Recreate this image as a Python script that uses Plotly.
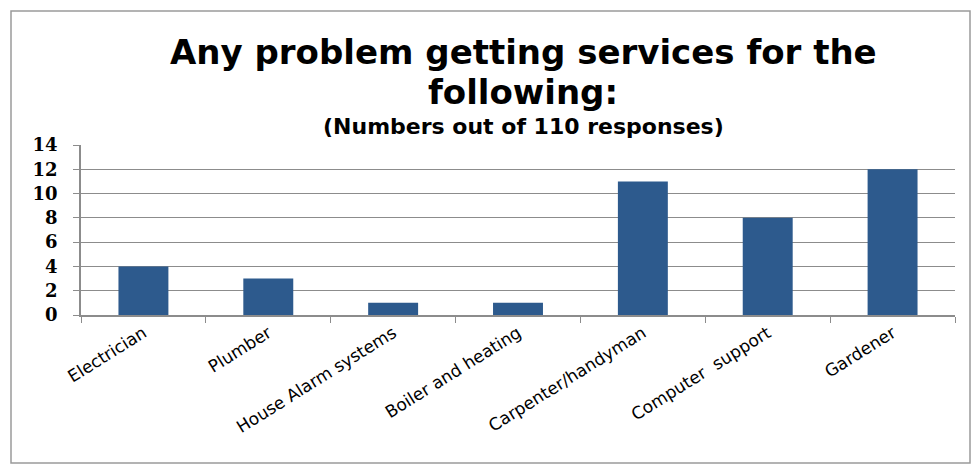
import plotly.graph_objects as go

# Survey results: number of respondents reporting problems, by service
services = [
    "Electrician",
    "Plumber",
    "House Alarm systems",
    "Boiler and heating",
    "Carpenter/handyman",
    "Computer  support",
    "Gardener",
]
problem_counts = [4, 3, 1, 1, 11, 8, 12]
y_ticks = [0, 2, 4, 6, 8, 10, 12, 14]

BAR_COLOR = "#2D5A8D"
GRID_COLOR = "#8C8C8C"
TEXT_FONT = "DejaVu Sans"

fig = go.Figure(
    go.Bar(
        x=services,
        y=problem_counts,
        marker=dict(color=BAR_COLOR, line=dict(width=0)),
        width=0.4,
    )
)

# plot-area geometry in pixels (figure 976 x 466)
L, R, T, B = 81, 21, 145, 151
W, H = 976, 466
pw, ph = W - L - R, H - T - B


def px_x(x):
    return (x - L) / pw


def px_y(y):
    return (H - B - y) / ph


fig.update_layout(
    width=W,
    height=H,
    margin=dict(l=L, r=R, t=T, b=B, pad=0),
    paper_bgcolor="white",
    plot_bgcolor="white",
    showlegend=False,
    bargap=0.6,
    font=dict(family=TEXT_FONT, color="black"),
)

fig.update_xaxes(
    type="category",
    tickangle=-32,
    tickson="boundaries",
    ticks="outside",
    ticklen=6,
    tickcolor=GRID_COLOR,
    showline=True,
    linecolor=GRID_COLOR,
    linewidth=1.5,
    showgrid=False,
    tickfont=dict(family=TEXT_FONT, size=17, color="black"),
)

fig.update_yaxes(
    range=[0, 14],
    tickvals=y_ticks,
    ticktext=[f"<b>{v}</b>" for v in y_ticks],
    ticks="outside",
    ticklen=6,
    tickcolor=GRID_COLOR,
    showline=True,
    linecolor=GRID_COLOR,
    linewidth=1.5,
    showgrid=True,
    gridcolor=GRID_COLOR,
    gridwidth=1.2,
    zeroline=False,
    tickfont=dict(family="DejaVu Serif", size=18, color="black"),
    ticklabelstandoff=12,
)

# chart title and subtitle
titles = [
    ("<b>Any problem getting services for the</b>", 52, 34),
    ("<b>following:</b>", 92, 34),
    ("<b>(Numbers out of 110 responses)</b>", 126, 22),
]
for text, ypx, size in titles:
    fig.add_annotation(
        text=text,
        xref="paper",
        yref="paper",
        x=px_x(523),
        y=px_y(ypx),
        xanchor="center",
        yanchor="middle",
        showarrow=False,
        font=dict(family=TEXT_FONT, size=size, color="black"),
    )

# outer chart frame
fig.add_shape(
    type="rect",
    xref="paper",
    yref="paper",
    x0=px_x(11),
    x1=px_x(970),
    y0=px_y(463),
    y1=px_y(11),
    line=dict(color="#9A9A9A", width=1.5),
    fillcolor="rgba(0,0,0,0)",
    layer="below",
)

fig.write_html("out.html")
